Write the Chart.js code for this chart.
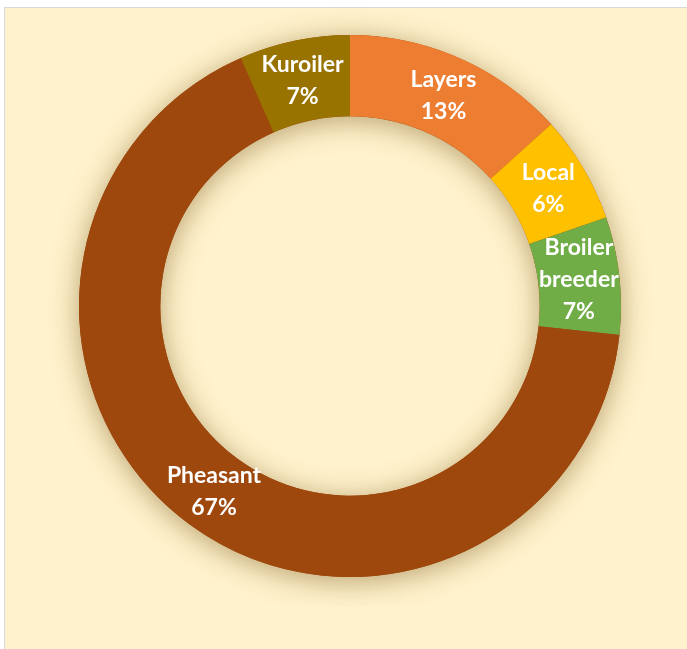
<!DOCTYPE html>
<html>
<head>
<meta charset="utf-8">
<script src="https://cdn.jsdelivr.net/npm/chart.js@4.4.1/dist/chart.umd.min.js"></script>
<style>
    html, body { margin: 0; padding: 0; background: #ffffff; overflow: hidden; }
    #frame {
        position: absolute;
        left: 4px; top: 7px;
        width: 700px; height: 660px;
        background: #fff2cc;
        border: 1px solid #d9d9d9;
    }
    #wrap {
        position: absolute;
        left: 30px; top: 6px;
        width: 640px; height: 600px;
    }
</style>
</head>
<body>
<div id="frame"></div>
<div id="wrap"><canvas id="poultryChart"></canvas></div>
<script>
const categories = ['Layers', 'Local', 'Broiler breeder', 'Pheasant', 'Kuroiler'];
const shares = [13.3, 6.4, 7.0, 66.7, 6.6];
const sliceColors = ['#ed7d31', '#ffc000', '#70ad47', '#9e480e', '#997300'];

// soft shadow under the whole ring, drawn once before the slices
const ringShadow = {
    id: 'ringShadow',
    beforeDatasetsDraw(chart) {
        const arc = chart.getDatasetMeta(0).data[0];
        if (!arc) return;
        const ctx = chart.ctx;
        ctx.save();
        ctx.shadowColor = 'rgba(125, 95, 35, 0.55)';
        ctx.shadowBlur = 28;
        ctx.shadowOffsetY = 4;
        ctx.fillStyle = '#9e480e';
        ctx.beginPath();
        ctx.arc(arc.x, arc.y, arc.outerRadius, 0, Math.PI * 2);
        ctx.arc(arc.x, arc.y, arc.innerRadius, Math.PI * 2, 0, true);
        ctx.closePath();
        ctx.fill();
        ctx.restore();
    }
};

const sliceLabels = {
    id: 'sliceLabels',
    afterDatasetsDraw(chart) {
        const ctx = chart.ctx;
        const data = chart.data.datasets[0].data;
        const total = data.reduce((a, b) => a + b, 0);
        ctx.save();
        ctx.fillStyle = '#ffffff';
        ctx.font = 'bold 23px Lato, "Open Sans", sans-serif';
        ctx.textAlign = 'center';
        ctx.textBaseline = 'middle';
        chart.getDatasetMeta(0).data.forEach(function(arc, i) {
            const pos = arc.tooltipPosition();
            const lines = chart.data.labels[i].split(' ');
            lines.push(Math.round(data[i] / total * 100) + '%');
            const lh = 32;
            const y0 = pos.y - (lines.length - 1) * lh / 2;
            lines.forEach(function(t, k) {
                ctx.fillText(t, pos.x, y0 + k * lh);
            });
        });
        ctx.restore();
    }
};

const ctx = document.getElementById('poultryChart').getContext('2d');
new Chart(ctx, {
    type: 'doughnut',
    data: {
        labels: categories,
        datasets: [{
            data: shares,
            backgroundColor: sliceColors,
            borderWidth: 0
        }]
    },
    options: {
        responsive: true,
        maintainAspectRatio: false,
        animation: false,
        cutout: '70%',
        layout: { padding: 29 },
        plugins: {
            legend: { display: false },
            tooltip: { enabled: false }
        }
    },
    plugins: [ringShadow, sliceLabels]
});
</script>
</body>
</html>
